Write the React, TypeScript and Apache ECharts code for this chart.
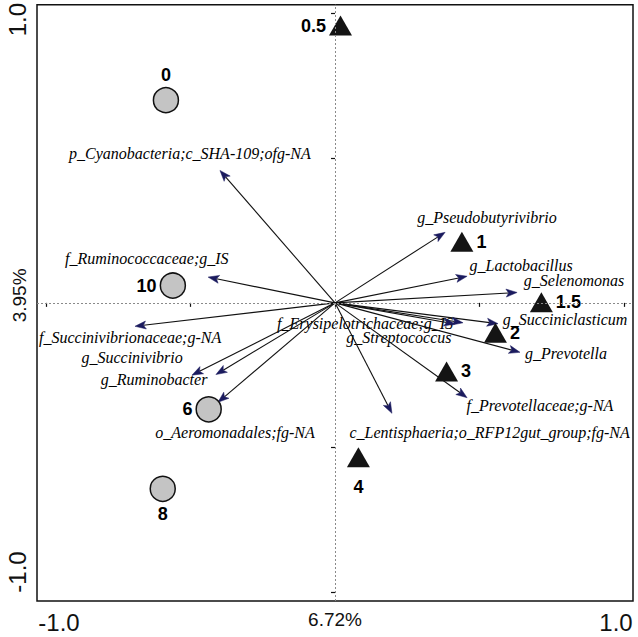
import React, { useEffect, useRef } from "react";
import * as echarts from "echarts";

// Sample sites (circles)
const circleNames = ["0", "10", "6", "8"];
const circleX = [-0.585, -0.561, -0.437, -0.596];
const circleY = [0.701, 0.06, -0.368, -0.643];
const circleLabelPos = ["top", "left", "left", "bottom"];

// Sample sites (triangles)
const triNames = ["0.5", "1", "1.5", "2", "3", "4"];
const triX = [0.019, 0.439, 0.714, 0.555, 0.386, 0.081];
const triY = [0.959, 0.211, 0.002, -0.103, -0.237, -0.534];
const triLabelPos = ["left", "right", "right", "right", "right", "bottom"];

// Species arrows
const speciesNames = [
  "p_Cyanobacteria;c_SHA-109;ofg-NA",
  "f_Ruminococcaceae;g_IS",
  "f_Succinivibrionaceae;g-NA",
  "g_Succinivibrio",
  "g_Ruminobacter",
  "o_Aeromonadales;fg-NA",
  "g_Pseudobutyrivibrio",
  "g_Lactobacillus",
  "g_Selenomonas",
  "g_Succiniclasticum",
  "g_Prevotella",
  "f_Erysipelotrichaceae;g_IS",
  "g_Streptococcus",
  "f_Prevotellaceae;g-NA",
  "c_Lentisphaeria;o_RFP12gut_group;fg-NA",
];
const speciesX = [-0.398, -0.439, -0.692, -0.495, -0.412, -0.405, 0.381, 0.457, 0.63, 0.564, 0.64, 0.443, 0.415, 0.457, 0.197];
const speciesY = [0.458, 0.089, -0.081, -0.25, -0.248, -0.344, 0.244, 0.092, 0.036, -0.072, -0.171, -0.069, -0.073, -0.328, -0.382];
const speciesLabelX = [-0.502, -0.651, -0.709, -0.702, -0.626, -0.346, 0.526, 0.644, 0.827, 0.796, 0.799, 0.104, 0.221, 0.709, 0.535];
const speciesLabelY = [0.516, 0.154, -0.119, -0.188, -0.264, -0.447, 0.295, 0.13, 0.078, -0.058, -0.175, -0.071, -0.121, -0.354, -0.447];

// Axis ticks and labels
const tickValues = [-1, -0.5, 0, 0.5, 1];
const labelValues = [-1, 0, 1];
const xAxisPercent = "6.72%";
const yAxisPercent = "3.95%";

const SANS = "'Liberation Sans', Arial, sans-serif";
const SERIF = "'Liberation Serif', 'Times New Roman', serif";

export default function App() {
  const ref = useRef<HTMLDivElement>(null);
  useEffect(() => {
    if (!ref.current) return;
    const chart = echarts.init(ref.current, undefined, { renderer: "svg" });

    const arrowData = speciesNames.map((n, i) => [speciesX[i], speciesY[i]]);
    const speciesLabelData = speciesNames.map((n, i) => ({ name: n, value: [speciesLabelX[i], speciesLabelY[i]] }));

    const sampleLabel = {
      show: true,
      fontFamily: SANS,
      fontWeight: "bold" as const,
      fontSize: 18,
      color: "#000",
      opacity: 1,
      formatter: "{b}",
      distance: 3,
    };

    const option: any = {
      animation: false,
      backgroundColor: "#fff",
      grid: {
        left: 37,
        right: 5,
        top: 4,
        bottom: 36,
        show: true,
        borderColor: "#111",
        borderWidth: 1.5,
        backgroundColor: "transparent",
      },
      xAxis: {
        type: "value",
        min: -1.031,
        max: 1.031,
        splitLine: { show: false },
        axisLine: { show: false },
        axisTick: {
          show: true,
          customValues: tickValues,
          length: 4,
          lineStyle: { color: "#111", width: 1.2 },
        },
        axisLabel: {
          customValues: labelValues,
          margin: 9,
          color: "#111",
          fontFamily: SANS,
          formatter: (v: number) =>
            v === 0 ? "{p|" + xAxisPercent + "}" : v < 0 ? "{l|-1.0}" : "{r|1.0}",
          rich: {
            l: { fontSize: 24, fontFamily: SANS, color: "#111", padding: [0, 0, 0, 26] },
            r: { fontSize: 24, fontFamily: SANS, color: "#111", padding: [0, 16, 0, 0] },
            p: { fontSize: 19, fontFamily: SANS, color: "#111" },
          },
        },
      },
      yAxis: {
        type: "value",
        min: -1.031,
        max: 1.031,
        splitLine: { show: false },
        axisLine: { show: false },
        axisTick: {
          show: true,
          customValues: tickValues,
          length: 4,
          lineStyle: { color: "#111", width: 1.2 },
        },
        axisLabel: {
          customValues: labelValues,
          rotate: 90,
          margin: 8,
          color: "#111",
          fontFamily: SANS,
          formatter: (v: number) =>
            v === 0 ? "{p|" + yAxisPercent + "}" : v < 0 ? "{l|-1.0}" : "{r|1.0}",
          rich: {
            l: { fontSize: 24, fontFamily: SANS, color: "#111", padding: [0, 0, 0, 40] },
            r: { fontSize: 24, fontFamily: SANS, color: "#111", padding: [0, 12, 0, 0] },
            p: { fontSize: 19, fontFamily: SANS, color: "#111", padding: [0, 0, 0, 15] },
          },
        },
      },
      series: [
        {
          type: "custom",
          coordinateSystem: "cartesian2d",
          silent: true,
          z: 3,
          data: arrowData,
          renderItem: (params: any, api: any) => {
            const tip = api.coord([api.value(0), api.value(1)]);
            const o = api.coord([0, 0]);
            const dx = tip[0] - o[0];
            const dy = tip[1] - o[1];
            const len = Math.sqrt(dx * dx + dy * dy) || 1;
            const ux = dx / len;
            const uy = dy / len;
            const nx = -uy;
            const ny = ux;
            const hl = 11;
            const hw = 4;
            const bx = tip[0] - ux * hl;
            const by = tip[1] - uy * hl;
            const notchX = tip[0] - ux * (hl - 2.5);
            const notchY = tip[1] - uy * (hl - 2.5);
            return {
              type: "group",
              children: [
                {
                  type: "line",
                  shape: { x1: o[0], y1: o[1], x2: notchX, y2: notchY },
                  style: { stroke: "#111", lineWidth: 1.1 },
                },
                {
                  type: "polygon",
                  shape: {
                    points: [
                      [tip[0], tip[1]],
                      [bx + nx * hw, by + ny * hw],
                      [notchX, notchY],
                      [bx - nx * hw, by - ny * hw],
                    ],
                  },
                  style: { fill: "#1b1b5e", stroke: "#1b1b5e", lineWidth: 0.5 },
                },
              ],
            };
          },
          markLine: {
            silent: true,
            symbol: "none",
            label: { show: false },
            lineStyle: { color: "#8a8a8a", type: [2, 2], width: 1 },
            data: [{ xAxis: 0 }, { yAxis: 0 }],
          },
        },
        {
          type: "scatter",
          z: 2,
          symbolSize: 0,
          silent: true,
          itemStyle: { opacity: 1 },
          data: speciesLabelData,
          label: {
            show: true,
            position: "inside",
            formatter: "{b}",
            fontFamily: SERIF,
            fontStyle: "italic",
            fontSize: 16,
            color: "#000",
            opacity: 1,
          },
        },
        {
          type: "scatter",
          z: 4,
          symbol: "circle",
          symbolSize: 25,
          itemStyle: { color: "#c4c4c4", borderColor: "#111", borderWidth: 1.5, opacity: 1 },
          data: circleNames.map((n, i) => ({
            name: n,
            value: [circleX[i], circleY[i]],
            label: { position: circleLabelPos[i] },
          })),
          label: sampleLabel,
        },
        {
          type: "scatter",
          z: 4,
          symbol: "triangle",
          symbolSize: [23, 20],
          itemStyle: { color: "#141414", opacity: 1 },
          data: triNames.map((n, i) => ({
            name: n,
            value: [triX[i], triY[i]],
            label: { position: triLabelPos[i], distance: triLabelPos[i] === "bottom" ? 11 : 3 },
          })),
          label: sampleLabel,
        },
      ],
    };
    chart.setOption(option);
    return () => chart.dispose();
  }, []);
  return (
    <div
      ref={ref}
      style={{ position: "fixed", left: 0, top: 0, width: 638, height: 637, background: "#fff" }}
    />
  );
}
